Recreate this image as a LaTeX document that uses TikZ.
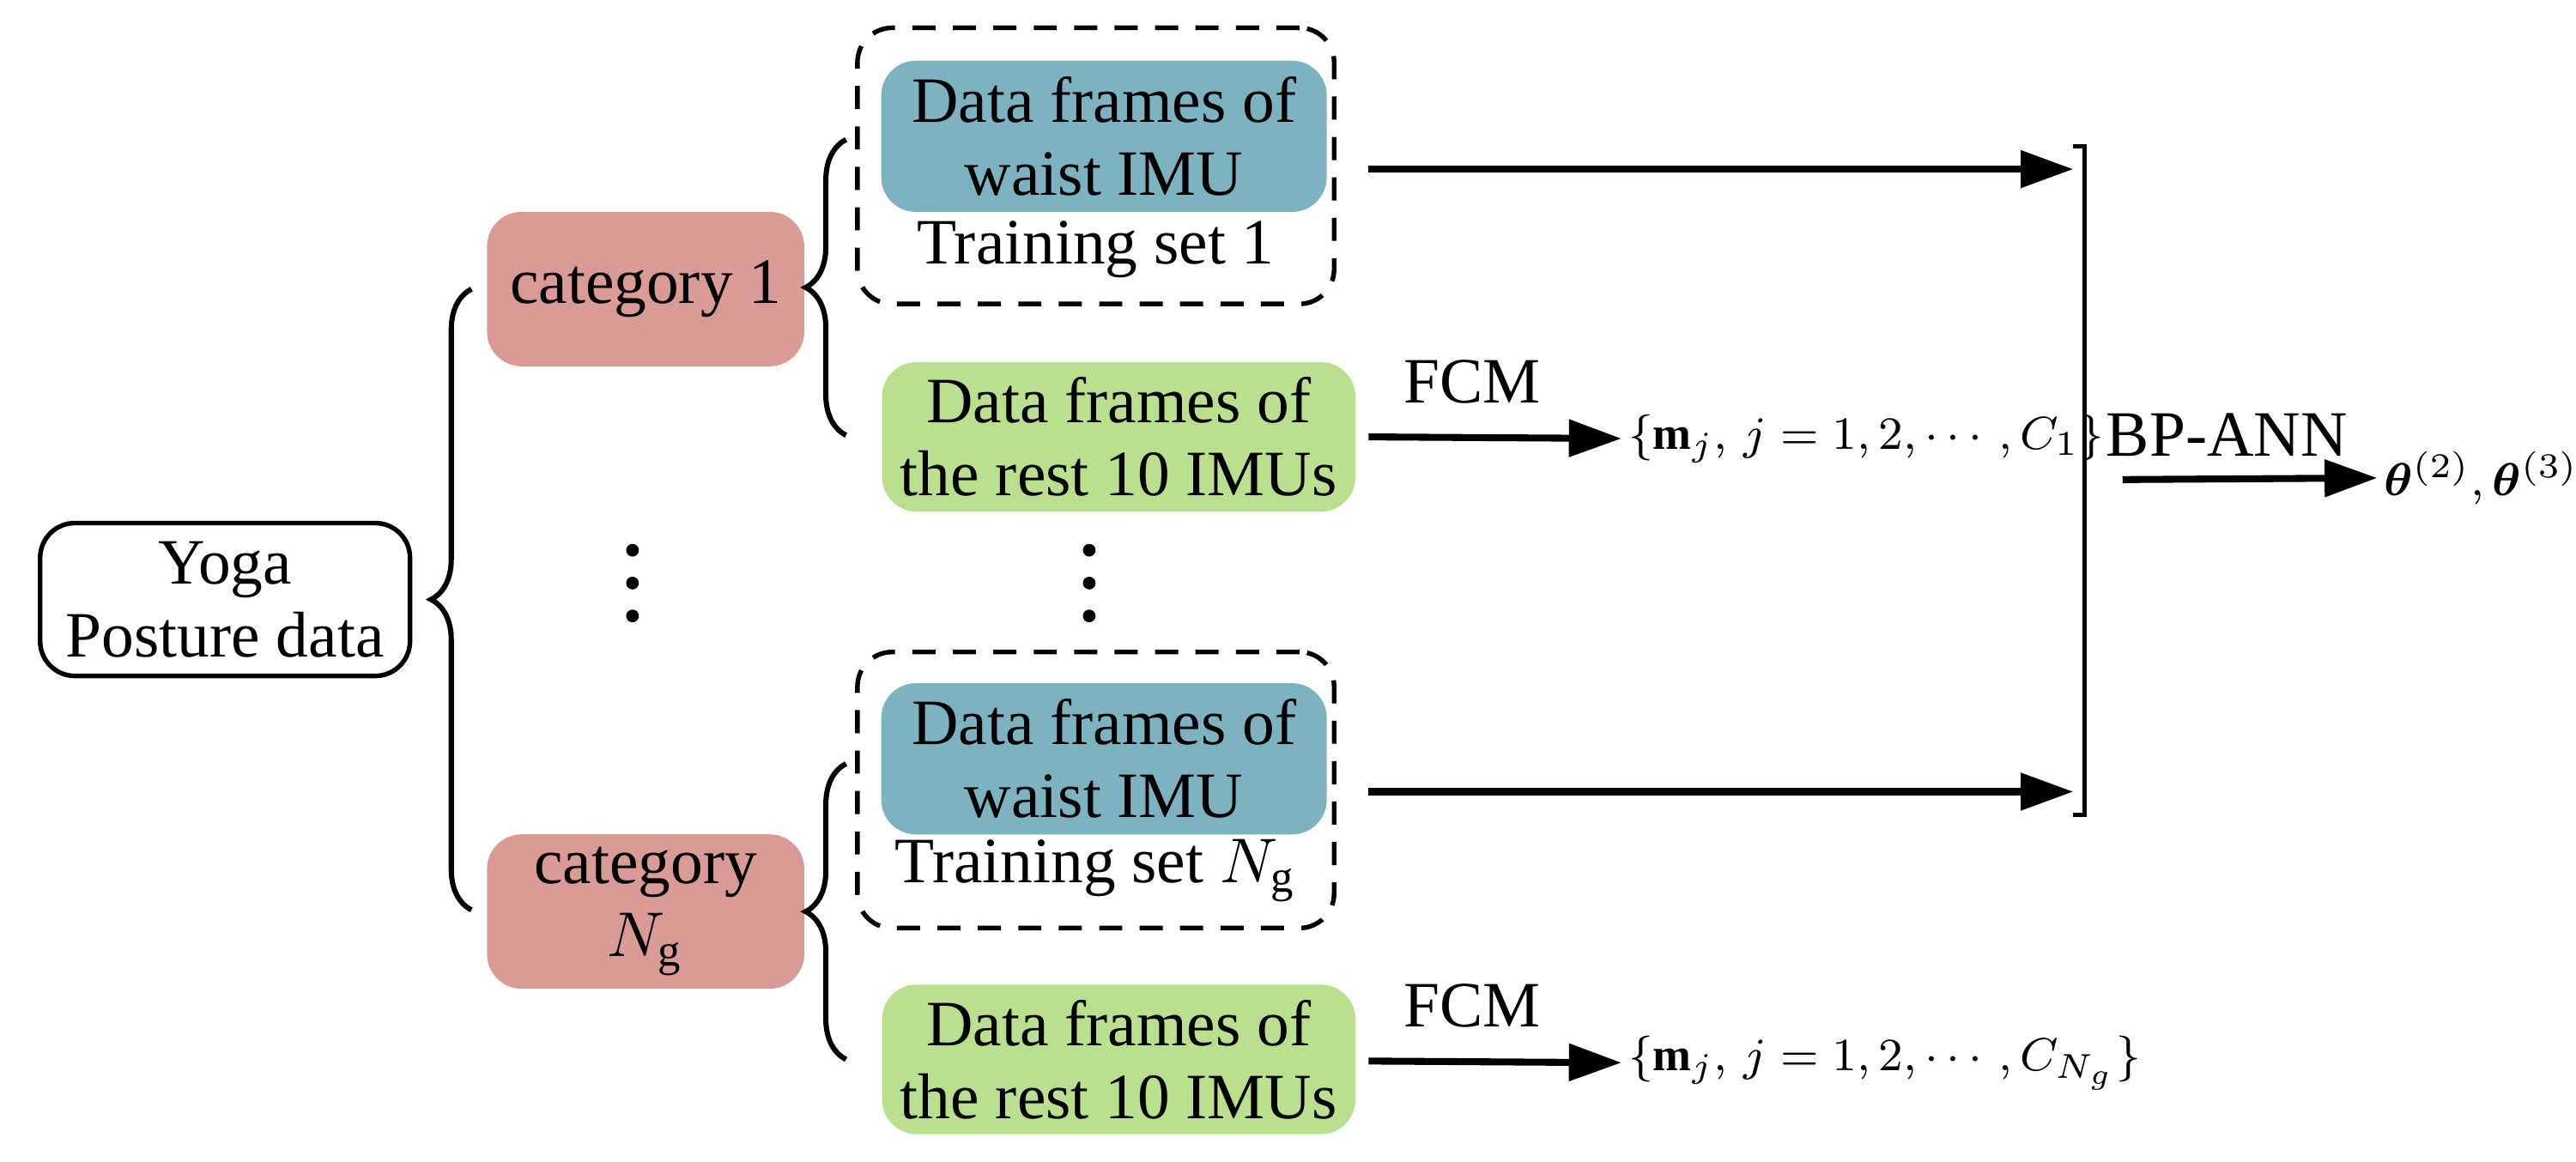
\documentclass[tikz,border=0pt]{standalone}
\usepackage{amsmath}
\usepackage{fontspec}
\setmainfont{Liberation Serif}
\usetikzlibrary{decorations.pathreplacing,arrows.meta}
\definecolor{catred}{HTML}{DA9B97}
\definecolor{waistblue}{HTML}{7DB2C1}
\definecolor{restgreen}{HTML}{B9DF8F}
\begin{document}
\begin{tikzpicture}[
                x=0.01cm,y=-0.01cm,
                font=\fontsize{11.2}{12.6}\selectfont,
                box/.style={rounded corners=6pt,align=center,inner sep=0pt},
                frame/.style={rounded corners=6pt,draw,dash pattern=on 4pt off 3pt,line width=0.8pt,minimum width=2.9cm,minimum height=1.68cm},
                setlbl/.style={anchor=west,inner sep=1pt,font=\fontsize{8}{9}\selectfont},
                bigarrow/.style={line width=1.2pt,-{Triangle[length=0.32cm,width=0.22cm]}},
                brc/.style={decoration={brace,amplitude=7pt},decorate,line width=0.9pt}] %

\useasboundingbox (0,0) rectangle (1568,707);

                    % input
                    \node[box,draw,line width=0.8pt,minimum width=2.25cm,minimum height=0.93cm] (YOGA) at (137,365) {Yoga\\Posture data};

                    % categories
                    \node[box,fill=catred,minimum width=1.93cm,minimum height=0.94cm] (CAT1) at (393,176) {category 1};
                    \node[box,fill=catred,minimum width=1.93cm,minimum height=0.94cm] (CATN) at (393,555) {category\\$N_{\mathrm{g}}$};

                    % 1
                    \node[frame] (TS1) at (667,101) {};
                    \node[box,fill=waistblue,minimum width=2.71cm,minimum height=0.92cm] (W1) at (672,83) {Data frames of\\waist IMU};
                    \node (TSL1) at (667,152) {Training set 1};
                    \node[box,fill=restgreen,minimum width=2.88cm,minimum height=0.91cm] (R1) at (681,266) {Data frames of\\the rest 10 IMUs};

                    % 2
                    \node[frame] (TSN) at (667,481) {};
                    \node[box,fill=waistblue,minimum width=2.71cm,minimum height=0.92cm] (WN) at (672,462) {Data frames of\\waist IMU};
                    \node (TSLN) at (667,530) {Training set $N_{\mathrm{g}}$};
                    \node[box,fill=restgreen,minimum width=2.88cm,minimum height=0.91cm] (RN) at (681,645) {Data frames of\\the rest 10 IMUs};

                    % dots
                    \foreach \x in {385,663}
                      \foreach \y in {335,355,375}
                        \fill (\x,\y) circle (1.1pt);

                    % braces
                    \draw[brc] (287,554) -- (287,176);
                    \draw[brc] (515,265) -- (515,85);
                    \draw[brc] (515,645) -- (515,465);

                    % outputs
                    \coordinate (B1) at (1262,103);
                    \coordinate (BN) at (1262,482);
                    \draw[bigarrow] (833,103) -- (B1);
                    \draw[bigarrow] (833,482) -- (BN);
                    \draw[line width=0.8pt] (1262,89) -- (1269,89) -- (1269,496) -- (1262,496);

                    \node[setlbl] (M1) at (987,267) {$\{\mathbf{m}_j,\,j=1,2,\cdots,C_1\}$};
                    \node[setlbl] (MN) at (987,647) {$\{\mathbf{m}_j,\,j=1,2,\cdots,C_{N_g}\}$};
                    \draw[bigarrow] (833,266) -- node[above=2pt,xshift=-4pt] {FCM} (M1.west);
                    \draw[bigarrow] (833,646) -- node[above=2pt,xshift=-4pt] {FCM} (MN.west);

                    \node[setlbl] (TH) at (1447,291) {$\boldsymbol{\theta}^{(2)},\boldsymbol{\theta}^{(3)}$};
                    \coordinate (BP) at (1292,292);
                    \draw[bigarrow] (BP) -- node[above=0pt,xshift=-4pt] {BP-ANN} (TH.west);

\end{tikzpicture}
\end{document}
